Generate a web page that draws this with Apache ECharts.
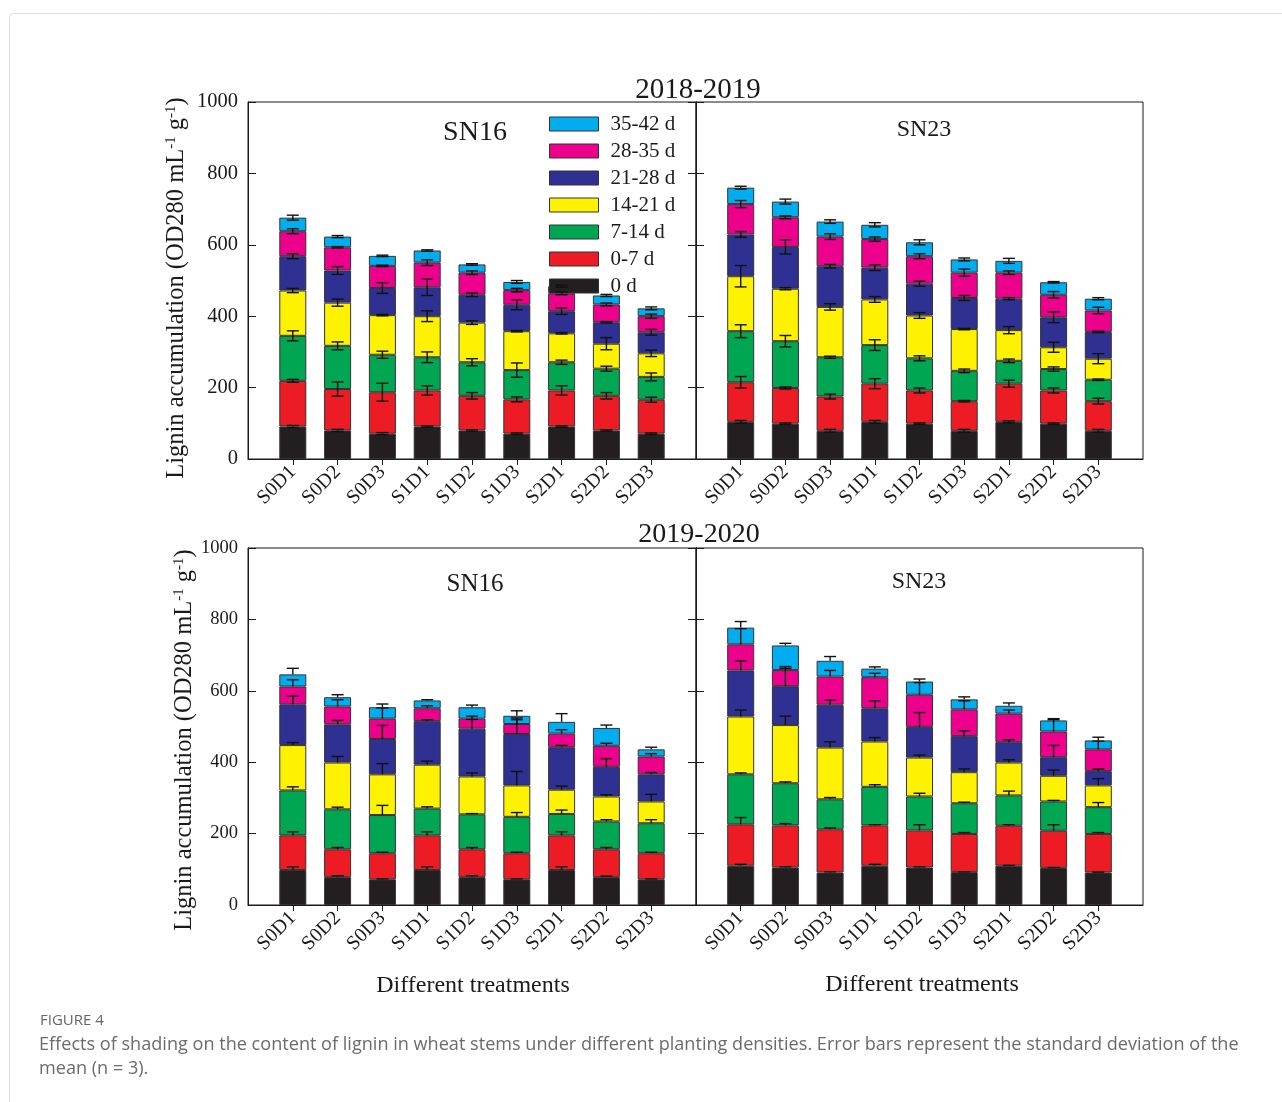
<!DOCTYPE html>
<html>
<head>
<meta charset="utf-8">
<script src="https://cdn.jsdelivr.net/npm/echarts@6/dist/echarts.min.js"></script>
<style>
  html, body { margin: 0; padding: 0; background: #fff; }
  #chart { width: 1282px; height: 1102px; }
</style>
</head>
<body>
<div id="chart"></div>
<script>
// Treatments (x categories) and sampling periods (stack segments, bottom to top)
const treatments = ['S0D1', 'S0D2', 'S0D3', 'S1D1', 'S1D2', 'S1D3', 'S2D1', 'S2D2', 'S2D3'];
const periods = ['0 d', '0-7 d', '7-14 d', '14-21 d', '21-28 d', '28-35 d', '35-42 d'];
const periodColors = ['#231f20', '#ed1c24', '#00a651', '#fff200', '#2e3192', '#ec008c', '#00aeef'];
const yTicks = [0, 200, 400, 600, 800, 1000];

// Lignin accumulated in each period; one row per period, one column per treatment
const sn16_1819 = [
  [91, 80, 71, 91, 80, 71, 91, 80, 71],
  [128, 116, 116, 101, 97, 96, 101, 97, 95],
  [126, 121, 105, 93, 94, 82, 79, 76, 64],
  [127, 121, 111, 115, 111, 109, 81, 70, 66],
  [96, 90, 76, 81, 78, 74, 62, 60, 59],
  [70, 65, 62, 69, 62, 41, 50, 50, 45],
  [38, 30, 28, 34, 23, 23, 20, 25, 22]
];
const sn16_1819_sd = [
  [3, 3, 3, 2, 2, 2, 2, 2, 2],
  [4, 20, 25, 13, 9, 7, 13, 9, 7],
  [14, 11, 10, 15, 10, 20, 6, 7, 11],
  [6, 10, 2, 15, 5, 2, 2, 17, 9],
  [7, 11, 15, 23, 5, 14, 9, 2, 8],
  [7, 2, 2, 8, 5, 5, 4, 4, 6],
  [7, 3, 2, 2, 2, 4, 3, 3, 4]
];
const sn23_1819 = [
  [104, 99, 79, 104, 99, 79, 104, 99, 79],
  [111, 100, 96, 107, 93, 83, 107, 93, 83],
  [143, 131, 110, 108, 90, 85, 64, 60, 60],
  [154, 147, 141, 128, 120, 117, 86, 61, 59],
  [117, 117, 114, 89, 89, 87, 88, 84, 75],
  [85, 83, 83, 80, 77, 71, 73, 63, 60],
  [46, 44, 42, 40, 39, 37, 33, 35, 33]
];
const sn23_1819_sd = [
  [4, 2, 4, 4, 2, 4, 3, 2, 4],
  [16, 3, 7, 14, 7, 2, 10, 7, 8],
  [18, 16, 3, 15, 7, 5, 5, 6, 2],
  [30, 3, 9, 8, 8, 2, 10, 14, 14],
  [8, 20, 5, 8, 7, 7, 3, 15, 2],
  [10, 4, 8, 6, 7, 10, 5, 9, 9],
  [4, 7, 5, 6, 7, 4, 7, 2, 3]
];
const sn16_1920 = [
  [98, 78, 72, 98, 78, 72, 98, 78, 72],
  [97, 78, 73, 97, 78, 73, 97, 78, 73],
  [126, 112, 107, 75, 98, 102, 60, 78, 84],
  [127, 131, 114, 123, 106, 88, 68, 70, 61],
  [114, 107, 99, 122, 134, 144, 119, 83, 76],
  [50, 50, 57, 36, 28, 28, 38, 59, 50],
  [34, 26, 32, 22, 32, 23, 33, 50, 20]
];
const sn16_1920_sd = [
  [9, 4, 1, 9, 4, 1, 9, 3, 1],
  [10, 5, 3, 10, 5, 3, 10, 5, 3],
  [10, 6, 27, 5, 2, 12, 11, 5, 10],
  [7, 17, 30, 10, 10, 39, 10, 5, 20],
  [23, 11, 38, 4, 26, 40, 5, 23, 5],
  [19, 19, 30, 7, 7, 17, 11, 7, 8],
  [17, 7, 9, 2, 6, 14, 23, 8, 6]
];
const sn23_1920 = [
  [110, 105, 91, 110, 105, 92, 110, 104, 91],
  [116, 118, 121, 113, 104, 107, 112, 104, 108],
  [140, 118, 84, 108, 95, 86, 85, 82, 75],
  [162, 163, 145, 127, 109, 87, 92, 72, 61],
  [129, 109, 120, 93, 86, 101, 57, 52, 40],
  [73, 45, 79, 87, 90, 75, 80, 72, 61],
  [47, 69, 44, 24, 37, 28, 22, 31, 25]
];
const sn23_1920_sd = [
  [4, 2, 2, 4, 2, 1, 1, 1, 1],
  [19, 5, 4, 2, 16, 4, 3, 17, 4],
  [4, 4, 5, 6, 9, 3, 12, 3, 13],
  [18, 25, 16, 11, 7, 9, 8, 16, 19],
  [27, 55, 13, 21, 40, 15, 7, 33, 6],
  [44, 5, 17, 11, 34, 24, 10, 33, 23],
  [17, 6, 12, 5, 7, 7, 8, 5, 9]
];

const SERIF = '"Liberation Serif", "Times New Roman", serif';
const INK = '#1a1a1a';

// Four panels: data, whether error bars point only upward, and frame box
const panels = [
  { values: sn16_1819, sd: sn16_1819_sd, upOnly: false, left: 248, top: 102, width: 448, labels: true, fs: 20.5 },
  { values: sn23_1819, sd: sn23_1819_sd, upOnly: false, left: 696, top: 102, width: 447, labels: false, fs: 20.5 },
  { values: sn16_1920, sd: sn16_1920_sd, upOnly: true, left: 248, top: 548, width: 448, labels: true, fs: 18.5 },
  { values: sn23_1920, sd: sn23_1920_sd, upOnly: true, left: 696, top: 548, width: 447, labels: false, fs: 18.5 }
];

// Empty slots at both ends give a full bar spacing of margin inside each frame
const xCats = [''].concat(treatments, ['']);

const grids = [], xAxes = [], yAxes = [], series = [];

panels.forEach((p, pi) => {
  grids.push({
    left: p.left, top: p.top, width: p.width, height: 357,
    show: true, borderColor: INK, borderWidth: 1, backgroundColor: 'transparent'
  });
  xAxes.push({
    type: 'category', gridIndex: pi, data: xCats, boundaryGap: false,
    axisLine: { show: true, lineStyle: { color: INK, width: 1 } },
    axisTick: { show: true, inside: false, length: 6, lineStyle: { color: INK },
      interval: (idx, val) => val !== '' },
    axisLabel: { show: true, interval: 0, rotate: 45, margin: 10, fontFamily: SERIF,
      fontSize: 20, color: INK },
    splitLine: { show: false }
  });
  yAxes.push({
    type: 'value', gridIndex: pi, min: 0, max: 1000, interval: 200, position: 'left',
    axisLine: { show: true, lineStyle: { color: INK } },
    axisTick: { show: true, inside: true, length: 8, lineStyle: { color: INK } },
    axisLabel: { show: p.labels, margin: 10, fontFamily: SERIF, fontSize: p.fs, color: INK,
      formatter: v => (yTicks.indexOf(v) >= 0 ? String(v) : '') },
    splitLine: { show: false }
  });
});
// inward ticks on the shared frame line of the left panels
[0, 2].forEach(gi => {
  yAxes.push({
    type: 'value', gridIndex: gi, min: 0, max: 1000, interval: 200, position: 'right',
    axisLine: { show: true, lineStyle: { color: INK } },
    axisTick: { show: true, inside: true, length: 8, lineStyle: { color: INK } },
    axisLabel: { show: false }, splitLine: { show: false }
  });
});

panels.forEach((p, pi) => {
  periods.forEach((name, k) => {
    series.push({
      type: 'bar', name, stack: 'panel' + pi, xAxisIndex: pi, yAxisIndex: pi,
      barWidth: 27,
      itemStyle: { color: periodColors[k], borderColor: '#333', borderWidth: 1 },
      data: [null].concat(p.values[k], [null]),
      silent: true, animation: false
    });
  });
  // error bars at the top of every segment
  const errData = [];
  treatments.forEach((t, i) => {
    let cum = 0;
    periods.forEach((name, k) => {
      cum += p.values[k][i];
      errData.push([i + 1, cum, p.sd[k][i]]);
    });
  });
  series.push({
    type: 'custom', xAxisIndex: pi, yAxisIndex: pi, z: 5, silent: true, animation: false,
    data: errData,
    encode: { x: 0, y: 1 },
    renderItem: (params, api) => {
      const x = api.value(0), y = api.value(1), e = api.value(2);
      const hi = api.coord([x, y + e]);
      const lo = api.coord([x, p.upOnly ? y : y - e]);
      const hw = 6;
      const st = { stroke: '#111', lineWidth: 1.4 };
      const children = [
        { type: 'line', shape: { x1: hi[0], y1: hi[1], x2: lo[0], y2: lo[1] }, style: st },
        { type: 'line', shape: { x1: hi[0] - hw, y1: hi[1], x2: hi[0] + hw, y2: hi[1] }, style: st }
      ];
      if (!p.upOnly) {
        children.push({ type: 'line', shape: { x1: lo[0] - hw, y1: lo[1], x2: lo[0] + hw, y2: lo[1] }, style: st });
      }
      return { type: 'group', children };
    }
  });
});

const yName = 'Lignin accumulation (OD280 mL{sup|-1} g{sup|-1})';
const nameRich = {
  sup: { fontFamily: SERIF, fontSize: 15, verticalAlign: 'top', fill: INK, padding: [0, 0, 11, 0] }
};

function txt(x, y, text, size) {
  return {
    type: 'text', x, y, silent: true,
    style: { text, font: size + 'px ' + SERIF, fill: INK, align: 'center', verticalAlign: 'middle' }
  };
}

const option = {
  backgroundColor: '#fff',
  animation: false,
  grid: grids,
  xAxis: xAxes,
  yAxis: yAxes,
  series,
  legend: {
    show: true, orient: 'vertical', left: 549, top: 113.5, padding: 0,
    icon: 'rect', itemWidth: 49, itemHeight: 14, itemGap: 6,
    data: periods.slice().reverse(),
    selectedMode: false,
    textStyle: { fontFamily: SERIF, fontSize: 21, color: INK, lineHeight: 21, padding: [0, 0, 0, 7] },
    itemStyle: { borderColor: '#333', borderWidth: 1 }
  },
  graphic: [
    { type: 'rect', silent: true, shape: { x: 9.5, y: 13.5, width: 1300, height: 1200, r: 4 },
      style: { fill: 'none', stroke: '#dcdcdc', lineWidth: 1 } },
    txt(698, 90, '2018-2019', 29),
    txt(699, 535, '2019-2020', 28),
    txt(475, 133, 'SN16', 28),
    txt(924, 130, 'SN23', 24),
    txt(475, 584, 'SN16', 25),
    txt(919, 582, 'SN23', 24),
    txt(473, 986, 'Different treatments', 24),
    txt(922, 985, 'Different treatments', 24),
    {
      type: 'text', x: 177, y: 288, rotation: Math.PI / 2, silent: true,
      style: { text: yName, font: '24.5px ' + SERIF, fill: INK, align: 'center', verticalAlign: 'middle', rich: nameRich }
    },
    {
      type: 'text', x: 185, y: 740, rotation: Math.PI / 2, silent: true,
      style: { text: yName, font: '24.5px ' + SERIF, fill: INK, align: 'center', verticalAlign: 'middle', rich: nameRich }
    },
    {
      type: 'text', x: 40, y: 1021, silent: true,
      style: { text: 'FIGURE 4', font: '15px "Open Sans", sans-serif', fill: '#666', align: 'left', verticalAlign: 'middle' }
    },
    {
      type: 'text', x: 39, y: 1045, silent: true,
      style: { text: 'Effects of shading on the content of lignin in wheat stems under different planting densities. Error bars represent the standard deviation of the',
        font: '18.1px "Open Sans", sans-serif', fill: '#6b6b6b', align: 'left', verticalAlign: 'middle' }
    },
    {
      type: 'text', x: 39, y: 1069, silent: true,
      style: { text: 'mean (n = 3).', font: '18.1px "Open Sans", sans-serif', fill: '#6b6b6b', align: 'left', verticalAlign: 'middle' }
    }
  ]
};

const chart = echarts.init(document.getElementById('chart'), null, { renderer: 'canvas' });
chart.setOption(option);
</script>
</body>
</html>
